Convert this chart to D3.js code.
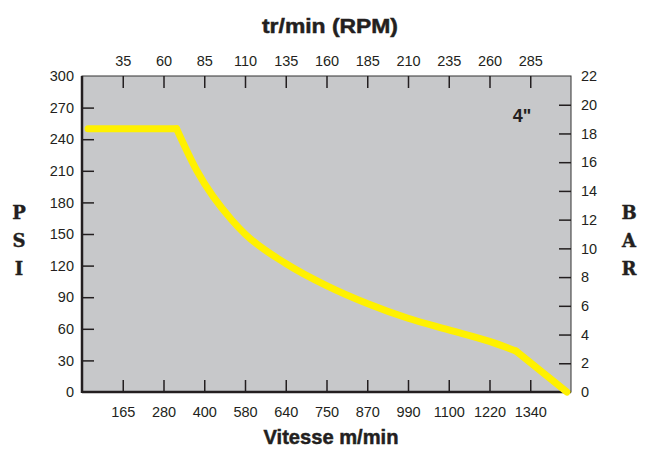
<!DOCTYPE html>
<html>
<head>
<meta charset="utf-8">
<script src="https://cdn.jsdelivr.net/npm/d3@7.9.0/dist/d3.min.js"></script>
<style>
  body { margin: 0; background: #fff; }
  svg text { font-family: "Liberation Sans", Arial, sans-serif; fill: #231f20; }
  .tick-label { font-size: 14.5px; }
  .title { font-weight: bold; font-size: 21px; stroke: #231f20; stroke-width: 0.5px; }
  .unit { font-family: "DejaVu Serif", serif; font-weight: bold; font-size: 18px; stroke: #231f20; stroke-width: 0.4px; }
</style>
</head>
<body>
<svg width="650" height="459"></svg>
<script>
// tick labels
const rpmLabels = [35, 60, 85, 110, 135, 160, 185, 210, 235, 260, 285];
const speedLabels = [165, 280, 400, 580, 640, 750, 870, 990, 1100, 1220, 1340];
const psiTicks = [0, 30, 60, 90, 120, 150, 180, 210, 240, 270, 300];
const barTicks = [0, 2, 4, 6, 8, 10, 12, 14, 16, 18, 20, 22];

// curve, position along the speed axis (tick index) and pressure in psi
const flatPos = [0.15, 2.32];
const flatPsi = [250, 250];
const dropPos = [2.32, 2.82, 3.68, 4, 5, 6, 7, 8, 9, 10, 10.65];
const dropPsi = [250, 210, 163, 150, 122, 101, 84, 70, 59, 48, 39];
const tailPos = [10.65, 11.9];
const tailPsi = [39, 0];

const svg = d3.select('svg');
const pLeft = 82, pRight = 571, pTop = 76, pBottom = 392;

let x = d3.scaleLinear().domain([0, 12]).range([pLeft, pRight]);
let yPsi = d3.scaleLinear().domain([0, 300]).range([pBottom, pTop]);
let yBar = d3.scaleLinear().domain([0, 22]).range([pBottom, pTop]);

// plot background
svg.append('rect')
    .attr('x', pLeft).attr('y', pTop)
    .attr('width', pRight - pLeft).attr('height', pBottom - pTop)
    .attr('fill', '#c7c8ca')
    .attr('stroke', '#333').attr('stroke-width', 1);

const tickLen = 12;
const idx = d3.range(1, 12);

// bottom axis
let bottomAxis = d3.axisBottom(x).tickValues(idx)
    .tickFormat((d) => speedLabels[d - 1]).tickSizeInner(-tickLen).tickSizeOuter(0).tickPadding(15);
let gBottom = svg.append('g').attr('transform', `translate(0,${pBottom})`).call(bottomAxis);

// top axis
let topAxis = d3.axisTop(x).tickValues(idx)
    .tickFormat((d) => rpmLabels[d - 1]).tickSizeInner(-tickLen).tickSizeOuter(0).tickPadding(10);
let gTop = svg.append('g').attr('transform', `translate(0,${pTop})`).call(topAxis);

// left axis
let leftAxis = d3.axisLeft(yPsi).tickValues(psiTicks)
    .tickSizeInner(-tickLen).tickSizeOuter(0).tickPadding(8);
let gLeft = svg.append('g').attr('transform', `translate(${pLeft},0)`).call(leftAxis);

// right axis
let rightAxis = d3.axisRight(yBar).tickValues(barTicks)
    .tickSizeInner(-tickLen).tickSizeOuter(0).tickPadding(10);
let gRight = svg.append('g').attr('transform', `translate(${pRight},0)`).call(rightAxis);

svg.selectAll('.domain').remove();
svg.selectAll('.tick line').attr('stroke', '#231f20').attr('stroke-width', 1.5);
svg.selectAll('.tick text').attr('class', 'tick-label').attr('fill', '#231f20');
// no tick marks at the ends
gLeft.selectAll('.tick line').filter((d) => d === 0 || d === 300).remove();
gRight.selectAll('.tick line').filter((d) => d === 0 || d === 22).remove();

// heavy left and bottom lines
svg.append('line').attr('x1', pLeft).attr('x2', pLeft).attr('y1', pTop).attr('y2', pBottom + 1)
    .attr('stroke', '#231f20').attr('stroke-width', 2.5);
svg.append('line').attr('x1', pLeft).attr('x2', pRight).attr('y1', pBottom).attr('y2', pBottom)
    .attr('stroke', '#231f20').attr('stroke-width', 2.5);

// curve
const yellow = '#fff100';
let lin = d3.line().x((d) => x(d[0])).y((d) => yPsi(d[1]));
let smooth = d3.line().x((d) => x(d[0])).y((d) => yPsi(d[1])).curve(d3.curveMonotoneX);

svg.append('path').attr('d', lin(d3.zip(flatPos, flatPsi)))
    .attr('fill', 'none').attr('stroke', yellow).attr('stroke-width', 7)
    .attr('stroke-linecap', 'round');
svg.append('path').attr('d', smooth(d3.zip(dropPos, dropPsi)))
    .attr('fill', 'none').attr('stroke', yellow).attr('stroke-width', 7)
    .attr('stroke-linecap', 'round');
svg.append('path').attr('d', lin(d3.zip(tailPos, tailPsi)))
    .attr('fill', 'none').attr('stroke', yellow).attr('stroke-width', 7)
    .attr('stroke-linecap', 'round');

// titles
svg.append('text').attr('class', 'title').attr('x', 330).attr('y', 33)
    .attr('text-anchor', 'middle')
    .attr('textLength', 136).attr('lengthAdjust', 'spacingAndGlyphs')
    .text('tr/min (RPM)');
svg.append('text').attr('class', 'title').attr('x', 331).attr('y', 444)
    .attr('text-anchor', 'middle')
    .attr('textLength', 135).attr('lengthAdjust', 'spacingAndGlyphs')
    .text('Vitesse m/min');

// unit labels
['P', 'S', 'I'].forEach((c, i) => {
    svg.append('text').attr('class', 'unit').attr('x', 19).attr('y', 219 + i * 28)
        .attr('text-anchor', 'middle').text(c);
});
['B', 'A', 'R'].forEach((c, i) => {
    svg.append('text').attr('class', 'unit').attr('x', 629).attr('y', 219 + i * 28)
        .attr('text-anchor', 'middle').text(c);
});

svg.append('text').attr('x', 522).attr('y', 122).attr('text-anchor', 'middle')
    .style('font-weight', 'bold').style('font-size', '18px').text('4"');
</script>
</body>
</html>
